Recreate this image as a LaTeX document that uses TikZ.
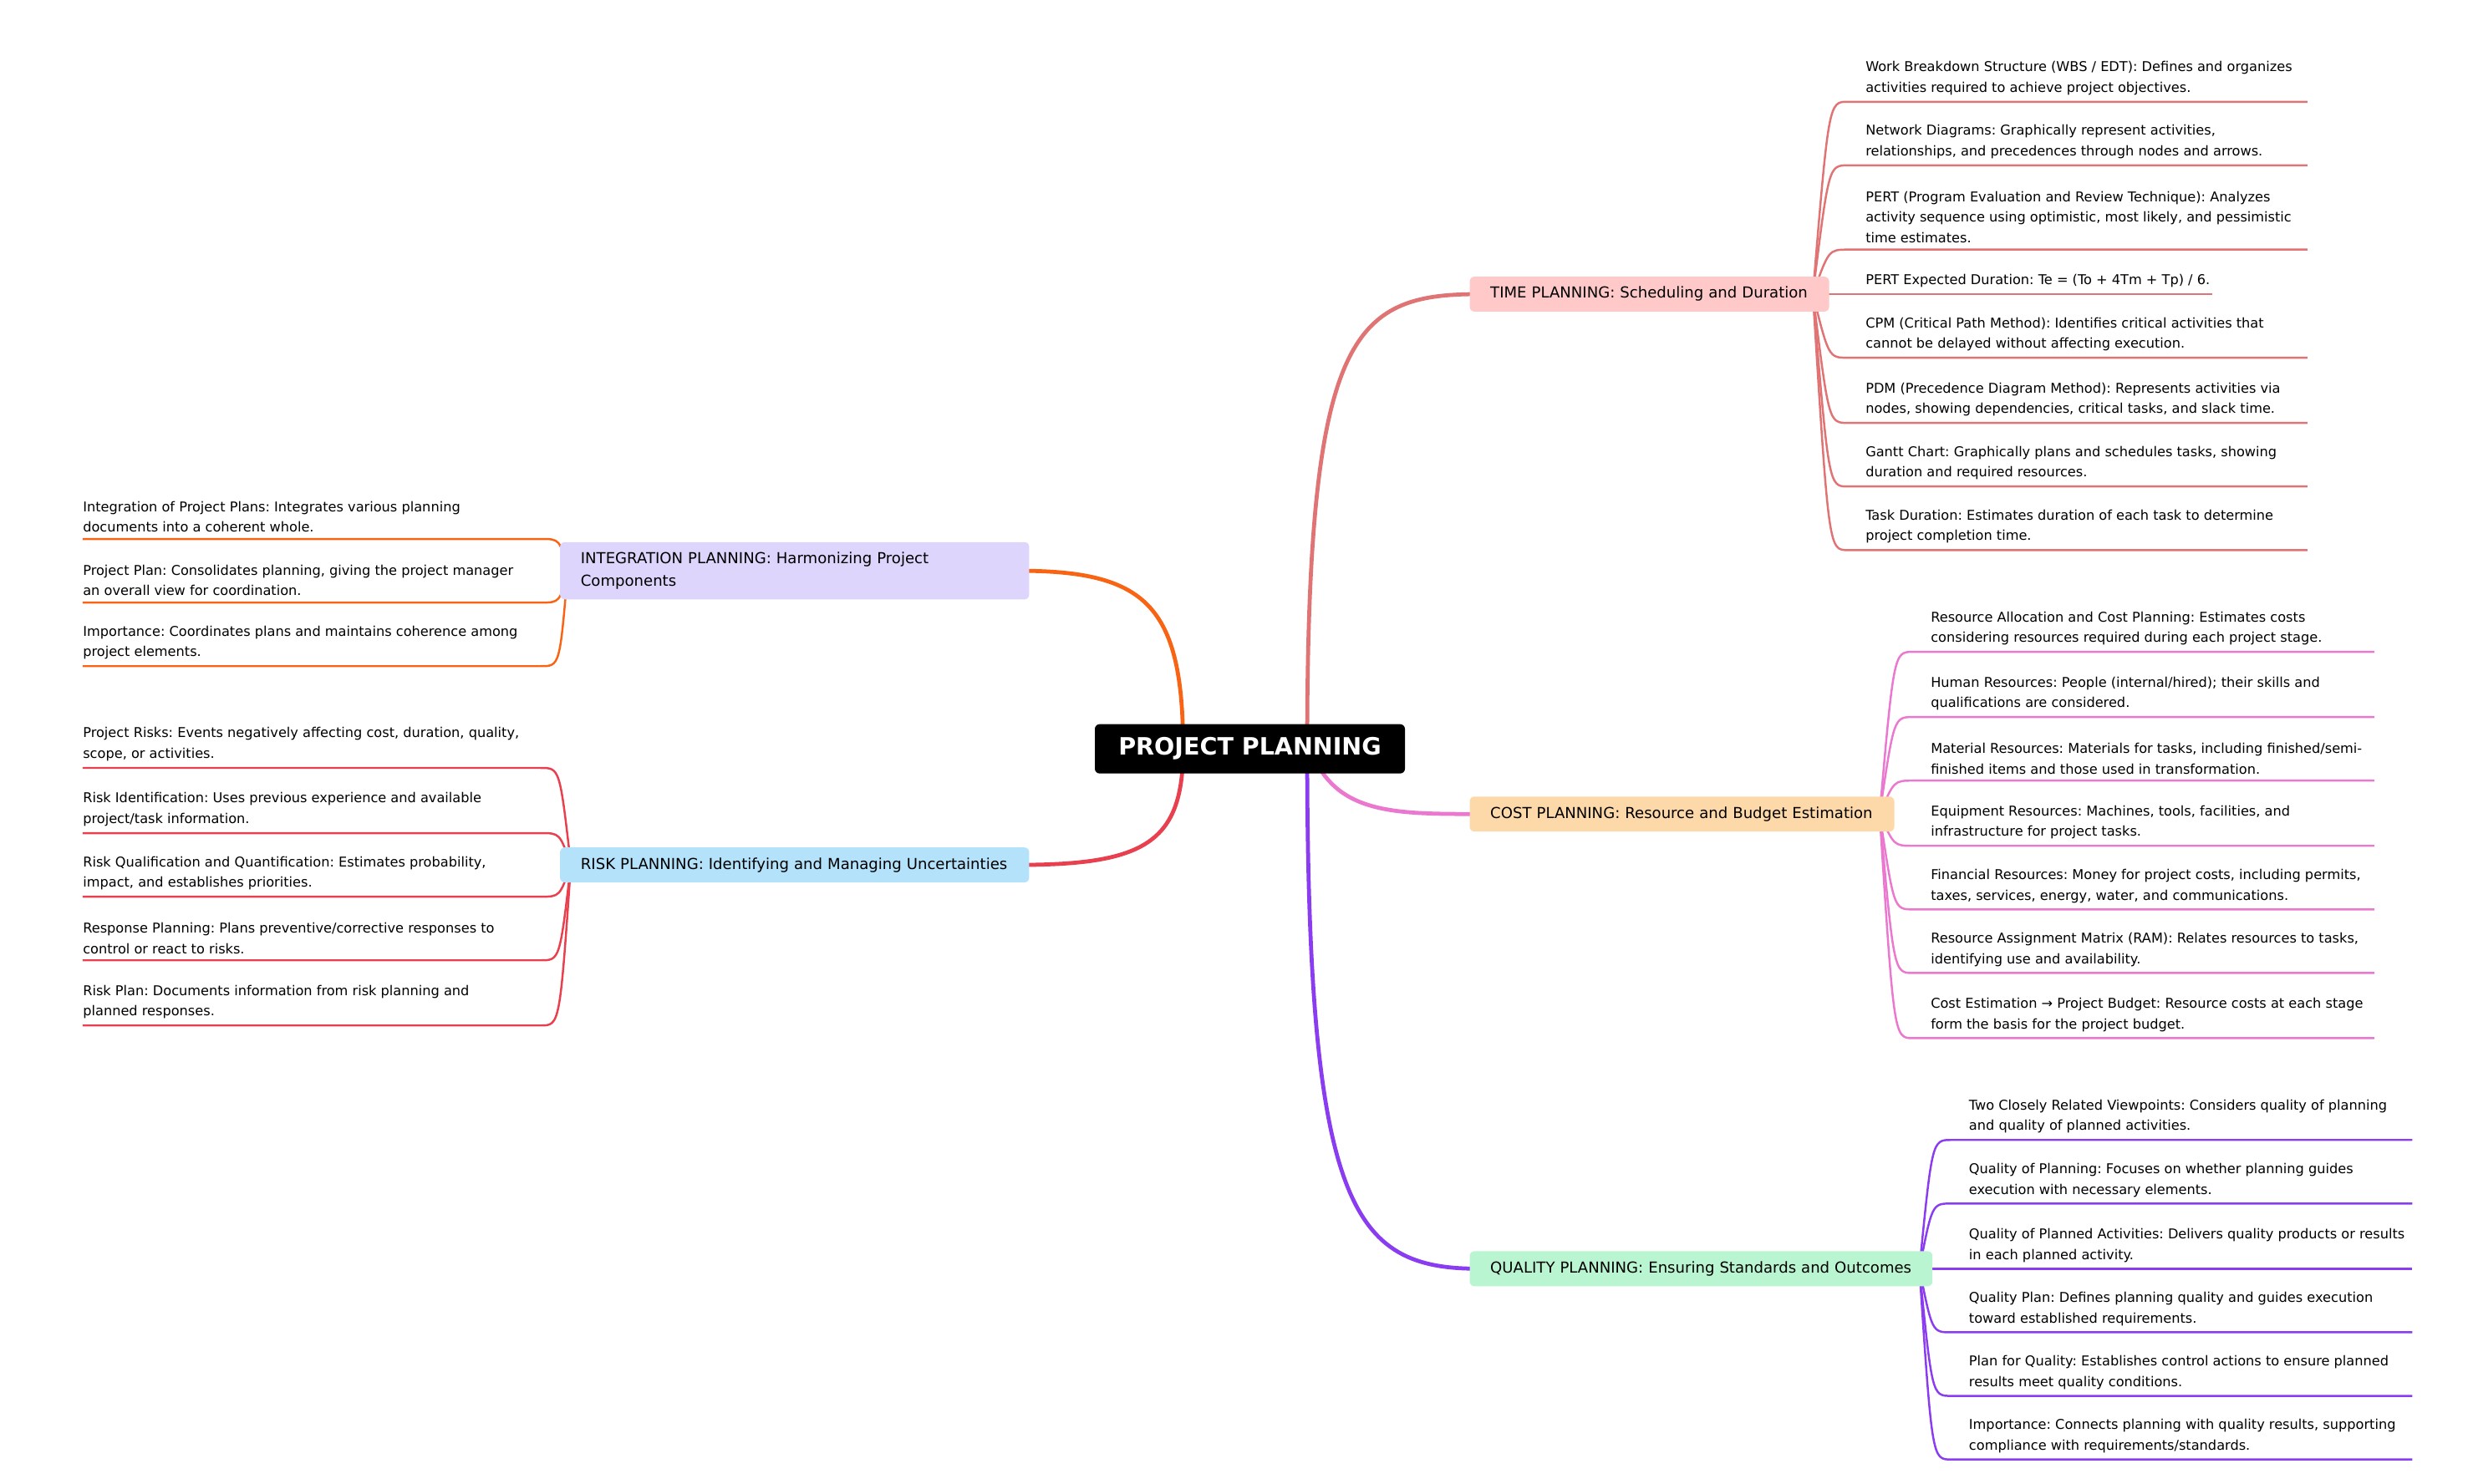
\documentclass[tikz,border=0pt]{standalone}
\usepackage{fontspec}
\setmainfont{DejaVu Sans}
\begin{document}
\frenchspacing
\begin{tikzpicture}[x=1pt,y=-1pt,
  leaf/.style={font=\frenchspacing\fontsize{8.5}{13}\selectfont,align=left,inner sep=0pt,anchor=south west},
  ll/.style={line width=1.3pt},
  ml/.style={line width=2.5pt},
  main/.style={font=\frenchspacing\fontsize{9.5}{14.5}\selectfont,rounded corners=3pt,inner xsep=13pt,align=left,minimum height=22pt,anchor=west}]
\useasboundingbox (0,0) rectangle (1552,933);
\definecolor{ctime}{HTML}{E07373}\definecolor{ftime}{HTML}{FFC9C9}
\definecolor{ccost}{HTML}{EA78CE}\definecolor{fcost}{HTML}{FDD8A8}
\definecolor{cqual}{HTML}{8A3CF0}\definecolor{fqual}{HTML}{B9F5D0}
\definecolor{cint}{HTML}{F86414}\definecolor{fint}{HTML}{DDD5FB}
\definecolor{crisk}{HTML}{E8404F}\definecolor{frisk}{HTML}{B4E2FB}
\newcommand\rleaf[7]{\draw[ll,#1] (#2) .. controls (#3,#4) .. (#3+12,#4) -- (#5,#4);
  \node[leaf] (#6) at (#3+23,#4-4) {#7};}
\newcommand\lleaf[6]{\draw[ll,#1] (#2) .. controls (#3,#4) .. (#3-12,#4) -- (52,#4);
  \node[leaf] (#5) at (52,#4-4) {#6};}
\coordinate (ot) at (1140,185);
\coordinate (oc) at (1182,512);
\coordinate (oq) at (1207,798);
\coordinate (oi) at (357,359);
\coordinate (or) at (359,544);
% main edges
\draw[ml,ctime] (822,471) .. controls (822,210) and (850,185) .. (930,185);
\draw[ml,ccost] (828,480) .. controls (845,512) and (880,512) .. (930,512);
\draw[ml,cqual] (822,471) .. controls (822,760) and (850,798) .. (930,798);
\draw[ml,cint] (744,471) .. controls (744,380) and (720,359) .. (640,359);
\draw[ml,crisk] (744,471) .. controls (744,530) and (720,544) .. (640,544);
% time leaves
\rleaf{ctime}{ot}{1150}{64}{1451}{t1}{Work Breakdown Structure (WBS / EDT): Defines and organizes\\activities required to achieve project objectives.}
\rleaf{ctime}{ot}{1150}{104}{1451}{t2}{Network Diagrams: Graphically represent activities,\\relationships, and precedences through nodes and arrows.}
\rleaf{ctime}{ot}{1150}{157}{1451}{t3}{PERT (Program Evaluation and Review Technique): Analyzes\\activity sequence using optimistic, most likely, and pessimistic\\time estimates.}
\rleaf{ctime}{ot}{1150}{185}{1391}{t4}{PERT Expected Duration: Te = (To + 4Tm + Tp) / 6.}
\rleaf{ctime}{ot}{1150}{225}{1451}{t5}{CPM (Critical Path Method): Identifies critical activities that\\cannot be delayed without affecting execution.}
\rleaf{ctime}{ot}{1150}{266}{1451}{t6}{PDM (Precedence Diagram Method): Represents activities via\\nodes, showing dependencies, critical tasks, and slack time.}
\rleaf{ctime}{ot}{1150}{306}{1451}{t7}{Gantt Chart: Graphically plans and schedules tasks, showing\\duration and required resources.}
\rleaf{ctime}{ot}{1150}{346}{1451}{t8}{Task Duration: Estimates duration of each task to determine\\project completion time.}
% cost leaves
\rleaf{ccost}{oc}{1191}{410}{1493}{c1}{Resource Allocation and Cost Planning: Estimates costs\\considering resources required during each project stage.}
\rleaf{ccost}{oc}{1191}{451}{1493}{c2}{Human Resources: People (internal/hired); their skills and\\qualifications are considered.}
\rleaf{ccost}{oc}{1191}{491}{1493}{c3}{Material Resources: Materials for tasks, including finished/semi-\\finished items and those used in transformation.}
\rleaf{ccost}{oc}{1191}{532}{1493}{c4}{Equipment Resources: Machines, tools, facilities, and\\infrastructure for project tasks.}
\rleaf{ccost}{oc}{1191}{572}{1493}{c5}{Financial Resources: Money for project costs, including permits,\\taxes, services, energy, water, and communications.}
\rleaf{ccost}{oc}{1191}{612}{1493}{c6}{Resource Assignment Matrix (RAM): Relates resources to tasks,\\identifying use and availability.}
\rleaf{ccost}{oc}{1191}{653}{1493}{c7}{Cost Estimation → Project Budget: Resource costs at each stage\\form the basis for the project budget.}
% quality leaves
\rleaf{cqual}{oq}{1215}{717}{1517}{q1}{Two Closely Related Viewpoints: Considers quality of planning\\and quality of planned activities.}
\rleaf{cqual}{oq}{1215}{757}{1517}{q2}{Quality of Planning: Focuses on whether planning guides\\execution with necessary elements.}
\rleaf{cqual}{oq}{1215}{798}{1517}{q3}{Quality of Planned Activities: Delivers quality products or results\\in each planned activity.}
\rleaf{cqual}{oq}{1215}{838}{1517}{q4}{Quality Plan: Defines planning quality and guides execution\\toward established requirements.}
\rleaf{cqual}{oq}{1215}{878}{1517}{q5}{Plan for Quality: Establishes control actions to ensure planned\\results meet quality conditions.}
\rleaf{cqual}{oq}{1215}{918}{1517}{q6}{Importance: Connects planning with quality results, supporting\\compliance with requirements/standards.}
% integration leaves
\lleaf{cint}{oi}{352}{339}{i1}{Integration of Project Plans: Integrates various planning\\documents into a coherent whole.}
\lleaf{cint}{oi}{352}{379}{i2}{Project Plan: Consolidates planning, giving the project manager\\an overall view for coordination.}
\lleaf{cint}{oi}{352}{419}{i3}{Importance: Coordinates plans and maintains coherence among\\project elements.}
% risk leaves
\lleaf{crisk}{or}{352}{483}{r1}{Project Risks: Events negatively affecting cost, duration, quality,\\scope, or activities.}
\lleaf{crisk}{or}{352}{524}{r2}{Risk Identification: Uses previous experience and available\\project/task information.}
\lleaf{crisk}{or}{352}{564}{r3}{Risk Qualification and Quantification: Estimates probability,\\impact, and establishes priorities.}
\lleaf{crisk}{or}{352}{604}{r4}{Response Planning: Plans preventive/corrective responses to\\control or react to risks.}
\lleaf{crisk}{or}{352}{645}{r5}{Risk Plan: Documents information from risk planning and\\planned responses.}
% main nodes
\node[main,fill=ftime,text width=200pt] (time) at (924,185) {TIME PLANNING: Scheduling and Duration};
\node[main,fill=fcost,text width=241pt] (cost) at (924,512) {COST PLANNING: Resource and Budget Estimation};
\node[main,fill=fqual,text width=265pt] (qual) at (924,798) {QUALITY PLANNING: Ensuring Standards and Outcomes};
\node[main,fill=fint,text width=269pt,minimum height=36pt] (int) at (352,359) {INTEGRATION PLANNING: Harmonizing Project\\Components};
\node[main,fill=frisk,text width=269pt] (risk) at (352,544) {RISK PLANNING: Identifying and Managing Uncertainties};
\node[fill=black,text=white,rounded corners=3pt,font=\bfseries\fontsize{15}{17}\selectfont,minimum width=195pt,minimum height=31pt] (root) at (786,471) {PROJECT PLANNING};
\end{tikzpicture}
\end{document}
